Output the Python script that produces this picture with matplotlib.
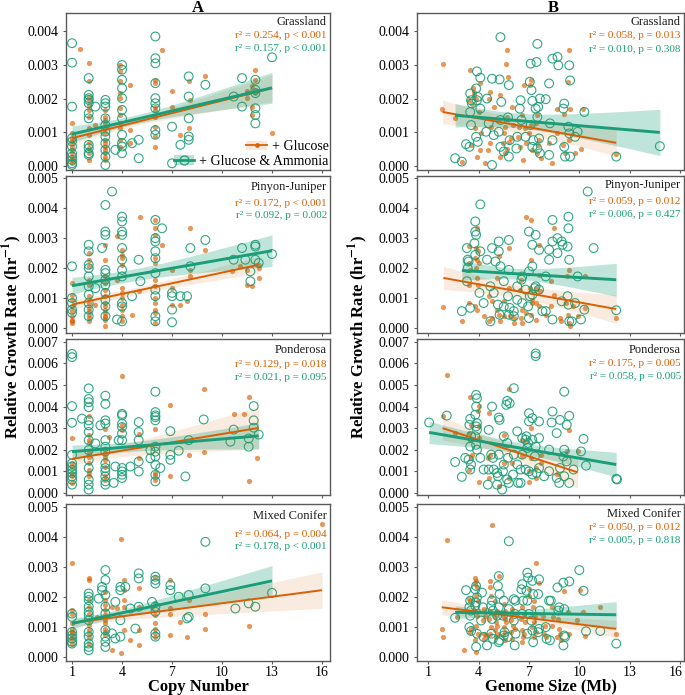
import matplotlib
matplotlib.use('Agg')
import matplotlib.pyplot as plt
import numpy as np
from matplotlib.patches import Patch
from matplotlib.lines import Line2D
from matplotlib.legend_handler import HandlerTuple
from matplotlib.transforms import ScaledTranslation

plt.rcParams['font.family'] = ['Liberation Serif', 'DejaVu Serif']
plt.rcParams['mathtext.fontset'] = 'stix'

ORANGE = '#D95F02'
GREEN = '#1B9E77'
SPINE = '#5a5a5a'

# ---------------- data (growth rate in units of 0.001 hr^-1) ----------------
# Column A: copy number -> groups of (copy number, [rates])
grass_cn_glu = [(1, [1.26, 0.97, 0.82, 0.72, 0.67, 0.57, 0.47, 0.37, 0.27, 0.17, 0.07]),
                (1.5, [3.48]),
                (2, [3.05, 2.51, 2.06, 1.96, 1.81, 1.66, 1.46, 1.11, 0.92, 0.67, 0.52, 0.37, 0.17]),
                (2.4, [1.21]),
                (3, [1.66, 1.46, 1.36, 1.26, 1.11, 0.97, 0.77, 0.67, 0.57, 0.47, 0.37, 0.27, 0.17]),
                (3.9, [3.0, 2.81, 2.51, 2.16, 2.01, 1.71, 1.51, 1.26, 1.11, 0.77, 0.57]),
                (4.5, [2.41, 1.06, 0.67]),
                (6, [2.56, 2.46, 1.76, 1.66, 1.46, 1.16, 0.87, 0.57]),
                (6.4, [3.45]), (7, [2.21, 1.76]), (7.5, [0.92]), (8, [1.11, 2.51]),
                (8.1, [1.96]), (9, [2.66]), (11.5, [2.21, 2.16, 2.01]),
                (11.8, [2.36, 1.76, 1.51]), (12, [2.86, 2.56, 2.26, 2.16]), (13, [0.97])]
grass_cn_gna = [(1, [3.65, 3.07, 1.76, 0.82, 0.72, 0.57, 0.37, 0.27, 0.17, 0.07, 0.02]),
                (2, [2.61, 2.11, 2.01, 1.96, 1.86, 1.56, 1.41, 0.62, 0.52, 0.37, 0.32]),
                (2.4, [1.76]),
                (3, [1.96, 1.86, 1.76, 1.41, 1.21, 1.01, 0.87, 0.67, 0.47, 0.27, 0.02]),
                (3.6, [0.47]),
                (4, [3.0, 2.86, 2.56, 2.31, 2.01, 1.66, 1.41, 0.92, 0.67, 0.57, 0.37]),
                (4.6, [0.67]), (5, [0.77, 0.22]),
                (6, [3.85, 3.2, 3.05, 2.46, 2.01, 1.86, 1.71, 1.06, 0.92]),
                (7, [1.16, 0.07]), (7.5, [0.62]), (8, [2.66, 2.06, 1.41, 0.87, 0.77]),
                (9, [2.41]), (10.7, [2.06]), (11.2, [2.61, 1.76]),
                (12, [2.56, 2.26, 1.51, 1.26, 1.71, 2.16]), (13, [3.23])]

pj_cn_glu = [(1, [1.5, 1.11, 0.94, 0.72, 0.56, 0.39, 0.28, 0.22, 0.17]),
             (2, [2.5, 2.28, 2.06, 1.61, 1.44, 1.06, 0.83, 0.67, 0.56, 0.44, 0.33, 0.22]),
             (2.4, [0.78]),
             (3, [2.78, 2.28, 1.72, 1.5, 1.28, 1.06, 0.83, 0.72, 0.61, 0.5, 0.39, 0.33, 0.28, 0.06]),
             (3.7, [3.06, 1.61]),
             (4, [2.61, 2.44, 2.33, 2.11, 1.33, 1.17, 1.0, 0.78, 0.61, 0.39, 0.22]),
             (4.6, [0.44]), (5, [1.22]), (5.1, [3.72]),
             (6, [3.61, 3.33, 3.11, 2.33, 2.17, 1.61, 1.39, 1.0, 0.83, 0.61, 0.5, 0.17]),
             (6.4, [2.78]), (7, [1.94, 1.33, 0.78]), (7.5, [0.78]), (7.9, [0.89]),
             (8.1, [3.33, 1.94, 1.72]), (9, [2.61]), (10.6, [1.89]), (11.1, [2.06]),
             (11.5, [1.94, 1.44]), (11.8, [1.39]), (12.2, [1.67, 2.0, 2.11])]
pj_cn_gna = [(1, [2.06, 1.0, 0.83, 0.61, 0.5]),
             (2, [2.78, 2.56, 2.11, 2.0, 1.72, 1.39, 1.11, 0.83, 0.61, 0.39]),
             (2.4, [1.33]), (2.8, [2.67]),
             (3, [4.11, 3.22, 3.11, 1.94, 1.83, 1.61, 1.44, 1.17, 0.94, 0.72, 0.39]),
             (3.4, [4.56]), (3.7, [0.28]),
             (4, [3.72, 3.56, 3.22, 3.11, 2.67, 2.28, 1.94, 1.72, 0.83, 0.72, 0.22]),
             (4.6, [1.06]), (5, [2.28]), (5.1, [1.56]),
             (6, [3.61, 3.0, 2.89, 2.56, 2.33, 1.83, 1.28, 1.06, 0.39, 0.22]),
             (6.4, [3.33]), (7, [1.17, 1.06, 0.61, 0.19]), (7.5, [1.06]), (7.9, [1.06]),
             (8.1, [2.67, 2.06]), (9, [2.94]), (10.7, [2.28]), (11.2, [2.67]),
             (11.4, [2.28]), (11.7, [1.89, 1.56]), (12.0, [2.78, 2.72, 2.28]),
             (12.2, [2.17]), (13, [2.47])]

pon_cn_glu = [(1, [2.52, 1.37, 1.22, 0.92, 0.76, 0.46]),
              (2, [3.54, 2.67, 2.44, 2.29, 1.83, 1.68, 1.37, 1.07, 0.92, 0.76]),
              (3, [2.98, 1.83, 1.68, 1.53, 1.22, 0.76, 0.61]),
              (3.2, [2.6]), (4, [5.42, 3.13, 2.9]), (5, [2.75, 1.6]),
              (6, [2.98, 0.92, 0.84, 0.61]), (6.9, [4.05, 0.76]), (8.0, [1.76]),
              (8.9, [4.81, 1.91]), (10.7, [3.66]), (11.3, [3.66]),
              (11.6, [0.53, 4.46]), (12.1, [1.6])]
pon_cn_gna = [(1, [6.44, 6.29, 4.02, 3.25, 1.76, 1.37, 1.22, 1.07, 0.92, 0.76, 0.61, 0.38]),
              (1.6, [3.44]),
              (2, [4.84, 4.35, 4.2, 3.97, 3.36, 3.13, 2.82, 2.44, 1.98, 1.53, 1.15, 0.61, 0.38, 0.15]),
              (2.4, [2.29]), (2.7, [3.13]),
              (3, [4.5, 4.12, 3.36, 3.21, 2.44, 2.14, 1.91, 1.37, 1.15, 0.99, 0.76, 0.53, 0.38]),
              (3.5, [0.46]), (3.6, [1.22]), (3.8, [2.44]),
              (4, [3.66, 3.59, 3.21, 3.05, 2.75, 2.44, 1.15, 0.99, 0.84, 0.69]),
              (4.5, [1.22]), (5, [3.28, 2.82, 2.44, 1.45, 0.99]), (5.7, [1.98, 1.6]),
              (6, [4.69, 3.74, 3.59, 3.51, 3.36, 2.14, 1.91, 1.68, 1.3, 0.84, 0.53]),
              (6.3, [1.15]), (6.9, [2.86, 1.76, 1.53]), (7.4, [1.95]), (7.8, [0.76]),
              (8.0, [2.44]), (8.9, [3.4]), (10.5, [2.37]), (10.7, [2.93]),
              (11.6, [2.14, 2.52]), (11.9, [4.02, 3.36, 3.02]), (12.2, [2.7])]

mc_cn_glu = [(1, [3.14, 1.56, 1.44, 1.11, 0.94, 0.83, 0.78, 0.67, 0.56, 0.44]),
             (2, [2.61, 2.56, 1.89, 1.67, 1.44, 1.22, 1.06, 0.89, 0.78, 0.67, 0.44]),
             (2.5, [1.33]),
             (3, [2.17, 1.89, 1.72, 1.56, 1.39, 1.22, 1.11, 0.94, 0.83, 0.72]),
             (3.4, [1.67, 0.22]), (3.7, [1.61]), (3.95, [3.91, 0.13]),
             (4.1, [2.56, 2.22, 1.89, 1.67, 0.89]), (4.5, [0.56]),
             (5, [2.28, 1.67, 0.89, 0.39]), (5.8, [1.67]),
             (6, [2.67, 1.78, 1.39, 1.11, 0.94, 0.78, 0.67]),
             (6.9, [2.56, 1.61, 1.44, 0.72]), (7.5, [1.17]), (7.9, [0.67]),
             (8.0, [1.89]), (9, [1.44, 0.94]), (11.6, [1.02]), (16, [4.41])]
mc_cn_gna = [(1, [1.44, 1.33, 0.83, 0.72, 0.61, 0.5, 0.44]),
             (2, [2.11, 2.0, 1.89, 1.67, 1.5, 1.39, 1.22, 0.83, 0.67, 0.44, 0.33, 0.22]),
             (2.6, [1.94]), (2.8, [2.33, 2.22]),
             (3, [2.89, 2.56, 2.06, 1.67, 1.44, 0.89, 0.67, 0.5, 0.33]),
             (3.4, [0.78]), (3.6, [0.61, 1.83]), (3.9, [2.33, 2.22, 1.22, 0.67]),
             (4.2, [2.33]), (4.5, [1.61]), (4.8, [0.94]), (5, [2.78, 2.61, 1.67]),
             (5.8, [1.83]), (6, [2.67, 2.56, 2.44, 1.67, 1.5, 0.78, 0.67]),
             (6.9, [2.39, 2.22]), (7.4, [2.0]), (7.9, [1.28]), (8.0, [2.06, 1.33]),
             (9, [3.83, 2.28]), (10.8, [1.61]), (11.6, [1.78]), (12, [1.67]), (13, [2.13])]

# Column B: (genome size Mb, rate)
grass_gs_glu = [(1.85, 3.02), (1.8, 1.7), (2.6, 1.43), (3.0, 0.12), (3.5, 2.86), (3.45, 1.95),
                (3.55, 0.61), (3.65, 2.3), (3.75, 2.2), (3.7, 2.1), (3.85, 2.0), (3.6, 1.85),
                (3.8, 1.11), (3.9, 0.27), (4.1, 2.45), (4.05, 1.6), (4.15, 0.96), (4.1, 0.46),
                (4.4, 0.07), (4.6, 2.0), (4.55, 0.47), (4.7, 2.2), (4.75, 1.16), (4.7, 0.66),
                (4.9, 1.75), (5.2, 1.36), (5.3, 2.1), (5.25, 0.27), (5.5, 0.96), (5.45, 0.66),
                (5.55, 0.37), (5.7, 3.46), (5.65, 3.04), (5.75, 2.65), (5.7, 1.45), (5.6, 1.16),
                (5.8, 0.71), (5.7, 0.51), (6.0, 1.75), (6.05, 1.21), (5.95, 0.81), (6.4, 1.16),
                (6.35, 0.86), (6.45, 0.56), (6.7, 2.4), (6.6, 1.5), (6.75, 1.11), (6.8, 0.66),
                (6.65, 0.17), (7.1, 2.55), (7.05, 2.4), (7.15, 1.21), (7.0, 0.96), (7.2, 0.47),
                (7.5, 1.5), (7.4, 1.26), (7.6, 0.76), (7.55, 0.61), (7.45, 0.37), (7.7, 0.22),
                (8.2, 0.66), (8.4, 0.07), (8.7, 1.7), (8.65, 0.96), (9.1, 1.55), (9.05, 0.61),
                (9.15, 0.37), (9.4, 3.44), (9.35, 2.5), (9.45, 1.7), (9.4, 0.76), (9.75, 0.37),
                (10.1, 0.51), (10.2, 1.7), (12.2, 0.35)]
grass_gs_gna = [(2.6, 0.22), (3.0, 0.12), (3.25, 0.64), (3.5, 2.15), (3.55, 1.95), (3.6, 1.85),
                (3.5, 1.6), (3.55, 1.21), (3.45, 0.56), (3.9, 2.81), (3.85, 2.3), (3.95, 2.05),
                (3.9, 1.95), (3.85, 0.86), (3.95, 0.71), (4.1, 2.62), (4.1, 1.7), (4.5, 2.0),
                (4.45, 1.01), (4.6, 1.26), (4.8, 2.59), (4.8, 0.02), (4.9, 0.91), (5.3, 3.83),
                (5.25, 2.57), (5.35, 1.9), (5.3, 1.36), (5.2, 1.01), (5.3, 0.56), (5.5, 0.42),
                (5.8, 2.4), (5.75, 1.44), (5.85, 0.76), (5.8, 0.27), (6.3, 0.86), (6.25, 0.51),
                (6.5, 1.95), (6.45, 1.7), (6.55, 1.36), (6.8, 0.86), (7.1, 3.04), (7.05, 2.5),
                (7.15, 2.25), (7.1, 1.21), (7.2, 1.93), (7.25, 0.76), (7.2, 0.56), (7.5, 3.63),
                (7.45, 3.09), (7.55, 1.75), (7.4, 1.7), (7.5, 1.45), (7.5, 0.51), (7.65, 2.0),
                (7.6, 0.81), (7.65, 0.37), (8.0, 1.98), (8.2, 2.45), (8.25, 1.26), (8.2, 0.32),
                (8.4, 3.19), (8.4, 0.76), (8.7, 3.24), (8.75, 2.99), (9.1, 1.85), (9.05, 1.7),
                (9.1, 0.56), (9.15, 0.27), (9.4, 2.99), (9.45, 2.54), (9.35, 1.16), (9.4, 0.96),
                (9.45, 0.27), (9.75, 0.86), (9.9, 1.01), (10.3, 1.6), (12.2, 0.27), (14.8, 0.58)]

pj_gs_glu = [(1.9, 0.69), (3.0, 0.22), (3.45, 2.74), (3.4, 2.17), (3.5, 1.94), (3.45, 1.44),
             (3.4, 0.83), (3.9, 3.33), (3.85, 2.67), (3.95, 2.56), (3.8, 2.33), (3.9, 2.28),
             (4.0, 2.17), (3.85, 2.0), (3.9, 1.67), (3.95, 1.44), (3.8, 0.72), (3.9, 0.61),
             (4.3, 0.39), (4.6, 1.06), (4.6, 0.22), (4.8, 0.89), (4.8, 0.33), (5.1, 1.67),
             (5.1, 0.61), (5.2, 2.39), (5.2, 0.44), (5.25, 0.22), (5.5, 0.89), (5.5, 0.39),
             (5.8, 2.67), (5.8, 1.33), (5.85, 0.39), (6.1, 0.33), (6.1, 0.17), (6.5, 1.61),
             (6.45, 1.28), (6.5, 0.33), (6.6, 0.61), (6.6, 0.17), (6.8, 3.72), (6.8, 0.5),
             (7.1, 3.61), (7.1, 2.28), (7.05, 1.33), (7.2, 0.94), (7.2, 0.83), (7.15, 0.44),
             (7.4, 1.33), (7.4, 0.83), (7.4, 0.28), (7.6, 2.78), (7.6, 1.78), (7.65, 1.22),
             (7.6, 0.72), (8.0, 0.44), (8.3, 1.56), (8.3, 0.72), (8.5, 3.33), (8.5, 1.11),
             (8.85, 0.33), (8.9, 0.22), (9.25, 1.72), (9.2, 0.83), (9.3, 0.44), (9.4, 1.94),
             (9.4, 0.17), (9.45, 0.06), (9.65, 0.72), (9.95, 0.39), (10.35, 1.72),
             (10.35, 0.67), (12.2, 0.33)]
pj_gs_gna = [(3.0, 0.56), (3.3, 2.67), (3.35, 2.28), (3.4, 2.22), (3.35, 2.0), (3.3, 1.56),
             (3.5, 0.67), (3.8, 3.56), (3.8, 3.22), (3.85, 3.11), (3.75, 2.83), (3.8, 2.44),
             (4.1, 4.13), (4.1, 2.56), (4.05, 1.17), (4.3, 0.83), (4.5, 2.28), (4.7, 0.22),
             (4.7, 1.39), (4.8, 2.67), (4.9, 1.17), (5.0, 2.22), (5.2, 2.89), (5.2, 2.56),
             (5.15, 0.78), (5.25, 0.44), (5.3, 2.06), (5.5, 1.56), (5.5, 0.72), (5.8, 2.94),
             (5.8, 1.94), (5.75, 1.06), (5.85, 0.67), (5.8, 0.44), (6.1, 0.56), (6.1, 0.39),
             (6.3, 1.39), (6.3, 0.94), (6.6, 1.72), (6.55, 1.61), (6.6, 0.83), (6.8, 1.28),
             (7.0, 3.22), (7.0, 1.89), (7.05, 1.06), (6.95, 0.72), (7.0, 0.33), (7.2, 2.78),
             (7.2, 2.06), (7.2, 1.11), (7.4, 3.11), (7.4, 1.39), (7.35, 1.33), (7.6, 2.61),
             (7.6, 1.28), (7.8, 0.56), (8.0, 1.72), (8.0, 0.56), (8.2, 2.61), (8.2, 2.28),
             (8.4, 3.61), (8.4, 2.89), (8.4, 0.28), (8.7, 3.0), (8.7, 2.5), (8.95, 2.89),
             (9.0, 2.78), (8.95, 0.89), (9.35, 3.72), (9.35, 3.33), (9.3, 2.72), (9.4, 2.28),
             (9.3, 1.06), (9.35, 0.78), (9.4, 0.22), (9.55, 0.22), (9.75, 0.83), (9.9, 1.72),
             (10.1, 0.28), (10.3, 0.61), (10.5, 4.56), (10.85, 2.67), (12.2, 0.59)]

pon_gs_glu = [(1.85, 3.54), (2.1, 5.45), (2.6, 2.77), (3.5, 4.46), (3.55, 3.15), (3.45, 2.77),
              (3.5, 2.46), (3.6, 1.77), (3.55, 1.62), (3.45, 1.08), (4.0, 4.03), (3.95, 3.77),
              (4.05, 3.08), (4.0, 2.54), (4.0, 0.49), (4.6, 3.69), (4.55, 1.62), (4.65, 1.77),
              (4.6, 0.69), (5.2, 0.31), (5.5, 2.69), (5.5, 1.38), (5.8, 4.8), (5.8, 0.69),
              (6.0, 1.38), (6.6, 2.46), (6.6, 1.69), (6.8, 2.38), (7.0, 0.49), (7.0, 1.0),
              (7.1, 3.0), (7.1, 1.62), (7.4, 1.15), (7.4, 0.69), (7.7, 1.77), (7.7, 1.38),
              (8.65, 0.85), (9.25, 1.92), (9.4, 2.89), (9.9, 1.92)]
pon_gs_gna = [(1.05, 3.26), (2.1, 3.58), (2.6, 1.43), (3.0, 0.74), (3.2, 1.62), (3.5, 3.43),
              (3.45, 3.15), (3.55, 2.62), (3.5, 2.15), (3.4, 1.54), (3.55, 1.31), (3.5, 1.08),
              (3.85, 4.54), (3.9, 4.38), (3.85, 4.0), (3.8, 3.62), (3.9, 3.23), (3.85, 3.08),
              (3.9, 2.92), (3.8, 2.62), (3.85, 2.23), (3.9, 2.0), (4.1, 1.62), (4.3, 1.08),
              (4.6, 1.08), (4.55, 0.38), (4.6, 2.92), (4.8, 4.0), (4.75, 1.77), (4.85, 1.62),
              (4.9, 1.08), (5.1, 0.92), (5.1, 0.38), (5.2, 3.49), (5.25, 3.38), (5.2, 1.77),
              (5.15, 0.77), (5.4, 0.15), (5.5, 2.62), (5.5, 1.31), (5.45, 1.0), (5.7, 4.26),
              (5.65, 4.08), (5.7, 2.31), (5.75, 1.62), (5.7, 0.62), (5.85, 4.15), (5.8, 0.46),
              (6.1, 4.85), (6.1, 1.77), (6.05, 0.85), (6.3, 2.85), (6.3, 1.31), (6.35, 0.46),
              (6.5, 1.08), (6.5, 0.46), (6.6, 2.54), (6.6, 1.77), (6.8, 2.46), (6.8, 1.08),
              (6.85, 2.62), (6.9, 2.08), (7.0, 3.69), (7.0, 3.31), (6.95, 2.31), (7.0, 1.0),
              (7.2, 3.46), (7.2, 2.46), (7.2, 0.85), (7.4, 6.46), (7.4, 6.34), (7.4, 2.15),
              (7.35, 1.69), (7.45, 0.92), (7.6, 3.31), (7.6, 2.54), (7.6, 1.15), (7.9, 0.77),
              (8.2, 2.0), (8.2, 1.0), (8.35, 3.26), (8.4, 3.77), (8.65, 2.77), (8.65, 0.69),
              (8.85, 3.38), (8.85, 1.15), (8.8, 0.46), (9.1, 4.69), (9.1, 2.0), (9.05, 1.69),
              (9.1, 0.77), (9.25, 3.15), (9.25, 1.46), (9.4, 3.57), (9.4, 0.46), (9.65, 1.08),
              (10.1, 1.92), (10.25, 2.5), (10.4, 1.26), (12.2, 0.65), (12.25, 0.62)]

mc_gs_glu = [(1.8, 0.93), (1.9, 0.66), (2.1, 3.88), (2.7, 1.32), (3.1, 0.22), (3.45, 1.92),
             (3.5, 1.87), (3.55, 0.93), (3.5, 0.82), (3.8, 2.64), (3.85, 2.53), (3.8, 2.42),
             (3.9, 2.31), (3.85, 2.03), (3.95, 1.87), (3.8, 1.54), (3.9, 1.37), (3.85, 1.04),
             (3.95, 0.77), (3.8, 0.55), (3.85, 0.16), (4.3, 1.59), (4.4, 1.37), (4.25, 1.21),
             (4.35, 0.77), (4.45, 0.71), (4.3, 0.6), (4.7, 2.53), (4.65, 2.31), (4.75, 2.03),
             (4.7, 1.54), (4.6, 1.26), (4.75, 0.99), (4.7, 0.77), (4.8, 4.4), (5.0, 1.87),
             (5.1, 1.54), (4.95, 1.32), (5.05, 1.15), (5.1, 1.04), (5.0, 0.88), (5.15, 0.77),
             (5.05, 0.66), (5.2, 2.69), (5.5, 1.76), (5.6, 1.54), (5.45, 1.37), (5.55, 1.26),
             (5.65, 1.15), (5.5, 0.99), (5.6, 0.82), (5.45, 0.71), (5.55, 0.55), (6.0, 1.59),
             (6.1, 1.43), (5.9, 1.21), (6.05, 1.04), (6.15, 0.93), (5.95, 0.82), (6.0, 0.6),
             (6.6, 1.65), (6.7, 1.43), (6.55, 1.26), (6.75, 1.15), (6.6, 0.88), (6.7, 0.77),
             (6.65, 0.66), (6.6, 0.49), (7.0, 2.25), (7.0, 2.03), (7.3, 1.87), (7.25, 1.65),
             (7.35, 1.37), (7.3, 1.15), (7.2, 0.99), (7.4, 0.82), (7.3, 0.66), (7.4, 3.13),
             (7.6, 2.47), (7.85, 1.37), (7.95, 1.04), (7.9, 0.77), (8.0, 0.66), (8.35, 1.65),
             (8.45, 1.32), (8.4, 1.04), (8.75, 1.26), (8.8, 0.93), (8.85, 0.77), (8.7, 0.66),
             (8.9, 0.55), (9.1, 2.2), (9.3, 1.48), (9.4, 0.77), (9.85, 1.21), (10.05, 2.22),
             (10.2, 1.48), (10.35, 0.68), (11.25, 1.65), (12.2, 0.77)]
mc_gs_gna = [(2.6, 1.3), (3.25, 2.22), (3.5, 1.87), (3.45, 1.65), (3.55, 1.54), (3.5, 1.37),
             (3.45, 0.99), (3.55, 0.86), (3.85, 2.36), (3.8, 2.25), (3.9, 1.98), (3.85, 1.81),
             (3.8, 1.7), (3.9, 0.77), (3.85, 0.33), (4.2, 2.14), (4.25, 1.65), (4.15, 1.21),
             (4.3, 0.66), (4.5, 0.38), (4.8, 1.87), (4.75, 1.7), (4.85, 1.54), (4.8, 1.26),
             (4.75, 0.77), (4.85, 0.6), (5.2, 2.69), (5.15, 2.36), (5.25, 2.09), (5.2, 1.65),
             (5.1, 1.37), (5.25, 0.55), (5.2, 0.49), (5.5, 1.87), (5.45, 1.37), (5.55, 0.82),
             (5.5, 0.71), (5.8, 3.85), (5.8, 1.59), (5.75, 0.66), (6.1, 1.92), (6.2, 1.87),
             (6.15, 1.43), (6.1, 1.21), (6.2, 0.77), (6.15, 0.38), (6.6, 2.42), (6.55, 2.25),
             (6.65, 1.87), (6.6, 1.43), (6.9, 2.8), (6.95, 2.64), (6.85, 2.2), (6.9, 1.87),
             (7.0, 1.43), (6.9, 0.77), (7.2, 2.53), (7.25, 2.09), (7.15, 1.21), (7.2, 0.88),
             (7.25, 0.49), (7.6, 2.58), (7.55, 2.09), (7.65, 1.54), (7.6, 0.93), (7.55, 0.82),
             (8.0, 0.99), (8.05, 0.6), (8.2, 1.87), (8.3, 1.87), (8.25, 0.55), (8.7, 2.31),
             (8.8, 1.65), (8.75, 1.54), (9.05, 2.47), (9.1, 1.59), (9.15, 0.66), (9.05, 0.38),
             (9.1, 0.71), (9.4, 2.51), (10.0, 2.89), (10.25, 2.2), (10.4, 0.85), (11.25, 0.86),
             (12.2, 0.44)]

# regression lines: x0, x1, y0, y1, CI half-width at x0, min, x1
grass_cn_fit_glu = [1, 13, 0.82, 2.31, 0.175, 0.10, 0.40]
grass_cn_fit_gna = [1, 13, 0.94, 2.32, 0.24, 0.13, 0.46]
pj_cn_fit_glu = [1, 12.2, 0.78, 2.11, 0.16, 0.12, 0.28]
pj_cn_fit_gna = [1, 13, 1.41, 2.58, 0.28, 0.20, 0.53]
pon_cn_fit_glu = [1, 12.2, 1.57, 3.01, 0.30, 0.25, 0.98]
pon_cn_fit_gna = [1, 12.2, 1.91, 2.64, 0.31, 0.22, 0.61]
mc_cn_fit_glu = [1, 16, 1.13, 2.22, 0.15, 0.12, 0.61]
mc_cn_fit_gna = [1, 13, 1.11, 2.53, 0.17, 0.13, 0.51]
grass_gs_fit_glu = [1.85, 12.2, 1.60, 0.68, 0.35, 0.22, 0.40]
grass_gs_fit_gna = [2.6, 14.8, 1.50, 0.99, 0.35, 0.22, 0.69]
pj_gs_fit_glu = [1.9, 12.2, 1.67, 0.63, 0.39, 0.22, 0.48]
pj_gs_fit_gna = [3.0, 12.2, 1.92, 1.61, 0.33, 0.18, 0.55]
pon_gs_fit_glu = [1.85, 9.9, 3.00, 0.95, 0.56, 0.30, 0.73]
pon_gs_fit_gna = [1.05, 12.2, 2.80, 1.31, 0.52, 0.25, 0.57]
mc_gs_fit_glu = [1.8, 12.2, 1.65, 0.93, 0.26, 0.12, 0.29]
mc_gs_fit_gna = [2.6, 12.2, 1.48, 1.40, 0.22, 0.10, 0.44]

sites = ['Grassland', 'Pinyon-Juniper', 'Ponderosa', 'Mixed Conifer']
stats_cn = [('r² = 0.254, p < 0.001', 'r² = 0.157, p < 0.001'),
            ('r² = 0.172, p < 0.001', 'r² = 0.092, p = 0.002'),
            ('r² = 0.129, p = 0.018', 'r² = 0.021, p = 0.095'),
            ('r² = 0.064, p = 0.004', 'r² = 0.178, p < 0.001')]
stats_gs = [('r² = 0.058, p = 0.013', 'r² = 0.010, p = 0.308'),
            ('r² = 0.059, p = 0.012', 'r² = 0.006, p = 0.427'),
            ('r² = 0.175, p = 0.005', 'r² = 0.058, p = 0.005'),
            ('r² = 0.050, p = 0.012', 'r² = 0.005, p = 0.818')]
y_top_tick = [4, 5, 7, 5]
x_ticks = [1, 4, 7, 10, 13, 16]

# annotation offsets below each panel's top edge (pixels): site, r2 glucose, r2 ammonia
text_offsets = [[(9.4, 22.7, 36.0), (10.7, 27.3, 39.3), (11.0, 25.3, 38.7), (11.7, 30.0, 42.3)],
                [(9.4, 22.7, 36.5), (9.5, 25.7, 38.3), (11.0, 24.3, 37.7), (10.0, 23.7, 36.7)]]


def flat(groups):
    xs, ys = [], []
    for x, vals in groups:
        xs += [x] * len(vals)
        ys += vals
    return np.array(xs, float), np.array(ys) * 1e-3


def pairs(pts):
    a = np.array(pts, float)
    return a[:, 0], a[:, 1] * 1e-3


def draw_fit(ax, fit, color, band_alpha):
    x0, x1, y0, y1, h0, hm, h1 = fit
    r = np.sqrt((h0**2 - hm**2) / (h1**2 - hm**2))
    xm = (x0 + r * x1) / (1 + r)
    b = (h1**2 - hm**2) / (x1 - xm)**2
    xx = np.linspace(x0, x1, 120)
    yy = y0 + (y1 - y0) * (xx - x0) / (x1 - x0)
    hh = np.sqrt(hm**2 + b * (xx - xm)**2)
    ax.fill_between(xx, (yy - hh) * 1e-3, (yy + hh) * 1e-3, color=color,
                    alpha=band_alpha, lw=0, zorder=3)
    return xx, yy * 1e-3


panels_a = [(grass_cn_glu, grass_cn_gna, grass_cn_fit_glu, grass_cn_fit_gna),
            (pj_cn_glu, pj_cn_gna, pj_cn_fit_glu, pj_cn_fit_gna),
            (pon_cn_glu, pon_cn_gna, pon_cn_fit_glu, pon_cn_fit_gna),
            (mc_cn_glu, mc_cn_gna, mc_cn_fit_glu, mc_cn_fit_gna)]
panels_b = [(grass_gs_glu, grass_gs_gna, grass_gs_fit_glu, grass_gs_fit_gna),
            (pj_gs_glu, pj_gs_gna, pj_gs_fit_glu, pj_gs_fit_gna),
            (pon_gs_glu, pon_gs_gna, pon_gs_fit_glu, pon_gs_fit_gna),
            (mc_gs_glu, mc_gs_gna, mc_gs_fit_glu, mc_gs_fit_gna)]

fig = plt.figure(figsize=(6.85, 6.95), dpi=100)

row_bottom = [0.7554, 0.5209, 0.2878, 0.0489]
row_height = [0.2259, 0.2259, 0.2244, 0.2259]
ylims = [(-0.00013, 0.00455), (-0.00017, 0.00508), (-0.0001, 0.00713), (-0.00014, 0.00509)]
col_left = [0.0964, 0.6088]
col_width = [0.3854, 0.3898]
xlims = [(0.64, 16.48), (0.33, 16.24)]

for c, (panels, stats) in enumerate([(panels_a, stats_cn), (panels_b, stats_gs)]):
    for r, (glu, gna, fit_glu, fit_gna) in enumerate(panels):
        ax = fig.add_axes([col_left[c], row_bottom[r], col_width[c], row_height[r]])
        if c == 0:
            xo, yo = flat(glu)
            xg, yg = flat(gna)
        else:
            xo, yo = pairs(glu)
            xg, yg = pairs(gna)
        ax.scatter(xo, yo, s=14, color=ORANGE, alpha=0.65, lw=0, zorder=2)
        ax.scatter(xg, yg, s=40, facecolors='none', edgecolors=GREEN, lw=0.8,
                   alpha=0.9, zorder=2)
        lx_o, ly_o = draw_fit(ax, fit_glu, ORANGE, 0.12)
        lx_g, ly_g = draw_fit(ax, fit_gna, GREEN, 0.28)
        ax.plot(lx_o, ly_o, color=ORANGE, lw=1.4, zorder=4, solid_capstyle='butt')
        ax.plot(lx_g, ly_g, color=GREEN, lw=2.1, zorder=4, solid_capstyle='butt')

        ax.set_xlim(*xlims[c])
        ax.set_ylim(*ylims[r])
        ax.set_xticks(x_ticks)
        yt = np.arange(0, y_top_tick[r] + 1) * 1e-3
        ax.set_yticks(yt)
        ax.set_yticklabels([f'{v:.3f}' for v in yt])
        if r < 3:
            ax.set_xticklabels([])
        for sp in ax.spines.values():
            sp.set_color(SPINE)
            sp.set_linewidth(1.0)
        ax.tick_params(direction='out', length=2.5, width=0.8, color=SPINE,
                       labelsize=10, labelcolor='black')
        ax.tick_params(axis='y', pad=3)
        ax.tick_params(axis='x', pad=1)

        hpx = row_height[r] * 695
        d_site, d_o, d_g = text_offsets[c][r]
        ax.text(0.988, 1 - d_site / hpx, sites[r], transform=ax.transAxes, ha='right',
                va='center', fontsize=9, color='#1a1a1a')
        ax.text(0.988, 1 - d_o / hpx, stats[r][0], transform=ax.transAxes, ha='right',
                va='center', fontsize=8, color=ORANGE)
        ax.text(0.988, 1 - d_g / hpx, stats[r][1], transform=ax.transAxes, ha='right',
                va='center', fontsize=8, color=GREEN)

        if r == 3:
            ax.set_xlabel('Copy Number' if c == 0 else 'Genome Size (Mb)',
                          fontsize=12, fontweight='bold')
            ax.xaxis.set_label_coords(0.5, -29.5 / hpx)
            ax.xaxis.label.set_va('baseline')
            if c == 1:
                # last tick label sits at the figure edge; nudge it inside
                last = ax.get_xticklabels()[-1]
                last.set_transform(last.get_transform() +
                                   ScaledTranslation(-0.045, 0, fig.dpi_scale_trans))

        if c == 0 and r == 0:
            h_glu = (Patch(facecolor=ORANGE, alpha=0.15, lw=0),
                     Line2D([], [], color=ORANGE, lw=1.4, marker='o', ms=3.5,
                            markerfacecolor=ORANGE, markeredgewidth=0, alpha=0.9))
            h_gna = (Patch(facecolor=GREEN, alpha=0.3, lw=0),
                     Line2D([], [], color=GREEN, lw=2.0, marker='o', ms=6.5,
                            markerfacecolor='none', markeredgecolor=GREEN,
                            markeredgewidth=0.9))
            leg1 = ax.legend([h_glu], ['+ Glucose'], loc='center right',
                             bbox_to_anchor=(0.995, 0.148), frameon=False,
                             fontsize=10, handlelength=1.5, handletextpad=0.35,
                             borderpad=0, borderaxespad=0,
                             handler_map={tuple: HandlerTuple(ndivide=1)})
            ax.add_artist(leg1)
            ax.legend([h_gna], ['+ Glucose & Ammonia'], loc='center right',
                      bbox_to_anchor=(0.995, 0.057), frameon=False,
                      fontsize=10, handlelength=1.5, handletextpad=0.35,
                      borderpad=0, borderaxespad=0,
                      handler_map={tuple: HandlerTuple(ndivide=1)})

fig.text(198 / 685, 1 - 7.5 / 695, 'A', ha='center', va='center', fontsize=12,
         fontweight='bold')
fig.text(553 / 685, 1 - 7.5 / 695, 'B', ha='center', va='center', fontsize=12,
         fontweight='bold')
for xpos in [12 / 685, 358 / 685]:
    fig.text(xpos, 1 - 337 / 695, r'Relative Growth Rate (hr$^{\mathbf{-1}}$)',
             rotation=90, ha='center', va='center', fontsize=12, fontweight='bold')

fig.savefig('out.png', dpi=100)
